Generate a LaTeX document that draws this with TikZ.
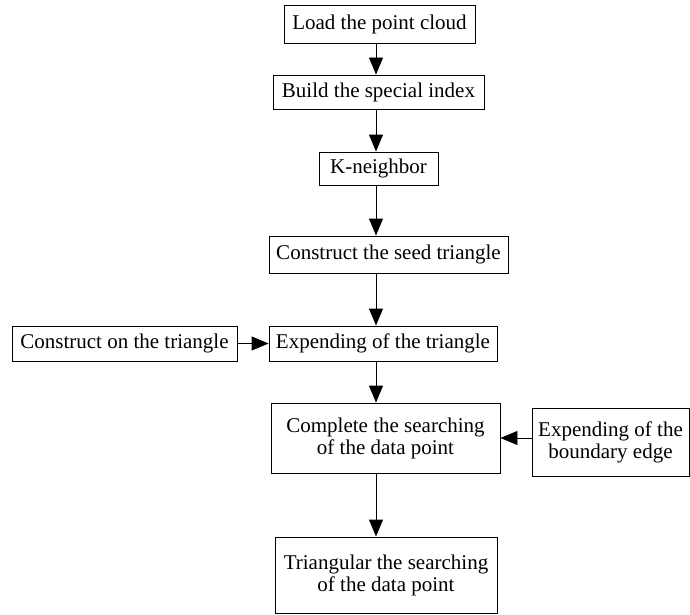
\documentclass[tikz,border=0pt]{standalone}
\usepackage{fontspec}
\setmainfont{Liberation Serif}
\usetikzlibrary{arrows.meta}
\begin{document}
\begin{tikzpicture}[x=1pt,y=-1pt,step box/.style={shape=rectangle,draw=black,line width=0.9pt,inner sep=0pt,align=center,font=\fontsize{21}{22}\selectfont},arr/.style={line width=0.9pt,-{Triangle[length=17pt,width=14pt]}}]
\def\sx{376};

\useasboundingbox (0,0) rectangle (690,615);
\coordinate (spine) at (\sx,0);

\node[step box,minimum width=191,minimum height=38] (load) at (379.5,24) {Load the point cloud};
\node[step box,minimum width=211,minimum height=34] (build) at (378.5,92) {Build the special index};
\draw[arr] (load.south -| spine) -- (build.north -| spine);

\node[step box,minimum width=119,minimum height=33] (knn) at (378.5,168.5) {K-neighbor};
\draw[arr] (build.south -| spine) -- (knn.north -| spine);

\node[step box,minimum width=239,minimum height=37] (seed) at (388.5,254.5) {Construct the seed triangle};
\draw[arr] (knn.south -| spine) -- (seed.north -| spine);

\node[step box,minimum width=228,minimum height=35] (expand) at (383,343.5) {Expending of the triangle};
\draw[arr] (seed.south -| spine) -- (expand.north -| spine);
\node[step box,minimum width=225,minimum height=35] (onTri) at (124.5,343.5) {Construct on the triangle};
\draw[arr] (onTri.east) -- (expand.west);

\node[step box,minimum width=229,minimum height=70] (complete) at (385.5,438) {Complete the searching\\of the data point};
\draw[arr] (expand.south -| spine) -- (complete.north -| spine);
\node[step box,minimum width=157,minimum height=68] (boundary) at (610.5,442) {Expending of the\\boundary edge};
\draw[arr] (boundary.west |- complete.east) -- (complete.east);

\node[step box,minimum width=222,minimum height=76] (tri) at (386,575) {Triangular the searching\\of the data point};
\draw[arr] (complete.south -| spine) -- (tri.north -| spine);
\end{tikzpicture}
\end{document}
